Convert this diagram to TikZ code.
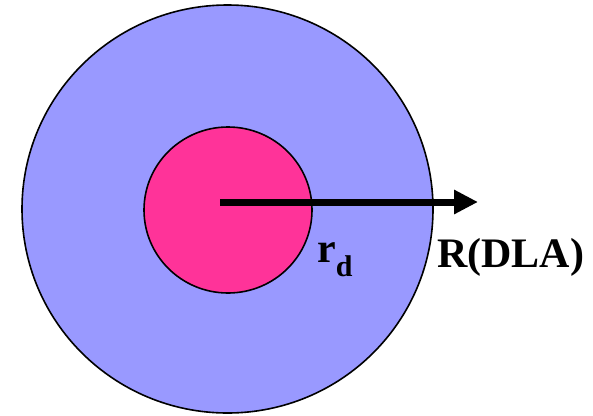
\documentclass[tikz,border=0pt]{standalone}
\usepackage{fontspec}
\setmainfont{Liberation Serif}
\usetikzlibrary{shapes.geometric,arrows.meta}
\definecolor{outerblue}{HTML}{9999FF}
\definecolor{innerpink}{HTML}{FF3399}
\begin{document}
\begin{tikzpicture}[x=1pt,y=-1pt,
  disc/.style={ellipse,draw=black,line width=1.6pt,inner sep=0pt},
  lbl/.style={anchor=base west,inner sep=0pt,font=\fontsize{42}{42}\selectfont\bfseries},
  radius arrow/.style={line width=7pt,-{Triangle[length=24pt,width=23pt]}}]
\useasboundingbox (0,0) rectangle (593,415);
\node[disc,fill=outerblue,minimum width=411pt,minimum height=408pt] (outer) at (227.5,209) {};
\node[disc,fill=innerpink,minimum width=168pt,minimum height=166pt] (inner) at (228,210) {};
\coordinate (start) at (220,202);
\coordinate (tip) at (478,202);
\draw[radius arrow] (start) -- (tip);
\node[lbl] (rd) at (317,262) {r\raisebox{-14pt}{\fontsize{30}{30}\selectfont d}};
\node[lbl] (RDLA) at (437,267) {R(DLA)};
\end{tikzpicture}
\end{document}
